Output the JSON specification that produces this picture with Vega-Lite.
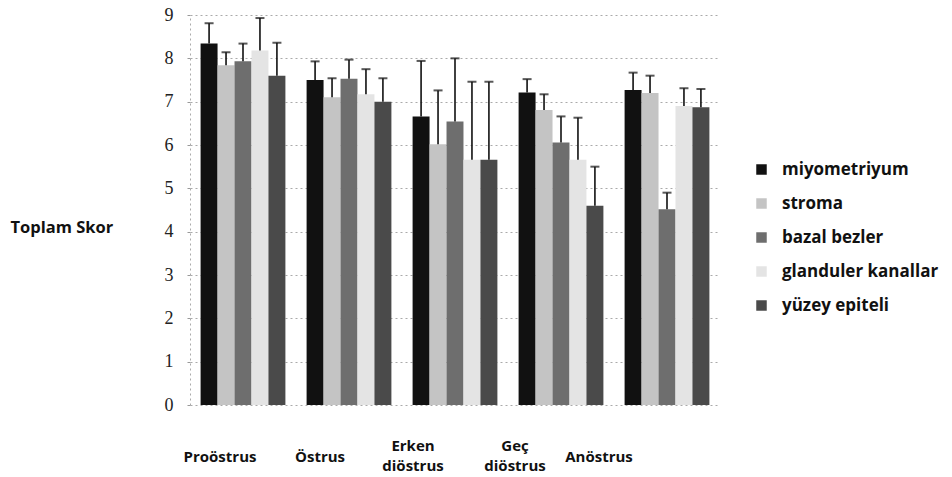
{
  "$schema": "https://vega.github.io/schema/vega-lite/v6.json",
  "width": 530,
  "height": 390,
  "autosize": {"type": "none"},
  "padding": {"left": 190, "top": 15, "right": 232, "bottom": 72},
  "background": "white",
  "config": {"view": {"stroke": null}},
  "data": {"values": [
    {"phase": "Proöstrus", "tissue": "miyometriyum", "value": 8.34, "upper": 8.81},
    {"phase": "Proöstrus", "tissue": "stroma", "value": 7.84, "upper": 8.14},
    {"phase": "Proöstrus", "tissue": "bazal bezler", "value": 7.93, "upper": 8.34},
    {"phase": "Proöstrus", "tissue": "glanduler kanallar", "value": 8.18, "upper": 8.93},
    {"phase": "Proöstrus", "tissue": "yüzey epiteli", "value": 7.6, "upper": 8.36},
    {"phase": "Östrus", "tissue": "miyometriyum", "value": 7.5, "upper": 7.93},
    {"phase": "Östrus", "tissue": "stroma", "value": 7.1, "upper": 7.54},
    {"phase": "Östrus", "tissue": "bazal bezler", "value": 7.53, "upper": 7.97},
    {"phase": "Östrus", "tissue": "glanduler kanallar", "value": 7.17, "upper": 7.75},
    {"phase": "Östrus", "tissue": "yüzey epiteli", "value": 7.0, "upper": 7.54},
    {"phase": "Erken diöstrus", "tissue": "miyometriyum", "value": 6.66, "upper": 7.94},
    {"phase": "Erken diöstrus", "tissue": "stroma", "value": 6.02, "upper": 7.26},
    {"phase": "Erken diöstrus", "tissue": "bazal bezler", "value": 6.54, "upper": 8.0},
    {"phase": "Erken diöstrus", "tissue": "glanduler kanallar", "value": 5.66, "upper": 7.46},
    {"phase": "Erken diöstrus", "tissue": "yüzey epiteli", "value": 5.66, "upper": 7.46},
    {"phase": "Geç diöstrus", "tissue": "miyometriyum", "value": 7.21, "upper": 7.52},
    {"phase": "Geç diöstrus", "tissue": "stroma", "value": 6.81, "upper": 7.17},
    {"phase": "Geç diöstrus", "tissue": "bazal bezler", "value": 6.06, "upper": 6.66},
    {"phase": "Geç diöstrus", "tissue": "glanduler kanallar", "value": 5.66, "upper": 6.63},
    {"phase": "Geç diöstrus", "tissue": "yüzey epiteli", "value": 4.6, "upper": 5.5},
    {"phase": "Anöstrus", "tissue": "miyometriyum", "value": 7.27, "upper": 7.67},
    {"phase": "Anöstrus", "tissue": "stroma", "value": 7.2, "upper": 7.6},
    {"phase": "Anöstrus", "tissue": "bazal bezler", "value": 4.52, "upper": 4.9},
    {"phase": "Anöstrus", "tissue": "glanduler kanallar", "value": 6.9, "upper": 7.31},
    {"phase": "Anöstrus", "tissue": "yüzey epiteli", "value": 6.87, "upper": 7.29}
  ]},
  "encoding": {
    "x": {
      "field": "phase", "type": "nominal",
      "sort": ["Proöstrus", "Östrus", "Erken diöstrus", "Geç diöstrus", "Anöstrus"],
      "scale": {"paddingInner": 0.2, "paddingOuter": 0.1},
      "title": null,
      "axis": {
        "labelAngle": 0, "domain": false, "ticks": false, "grid": false,
        "labelFont": "Open Sans", "labelFontWeight": "bold", "labelFontSize": 15, "labelColor": "#111",
        "labelBaseline": "middle", "labelLineHeight": 20,
        "labelExpr": "split(datum.label, ' ')",
        "labelPadding": {
          "condition": {"test": "datum.value == 'Erken diöstrus' || datum.value == 'Geç diöstrus'", "value": 40},
          "value": 51
        },
        "labelOffset": {
          "condition": [
            {"test": "datum.value == 'Proöstrus'", "value": -23},
            {"test": "datum.value == 'Östrus'", "value": -29},
            {"test": "datum.value == 'Erken diöstrus'", "value": -42},
            {"test": "datum.value == 'Geç diöstrus'", "value": -46}
          ],
          "value": -68
        }
      }
    },
    "xOffset": {"field": "tissue", "type": "nominal", "sort": ["miyometriyum", "stroma", "bazal bezler", "glanduler kanallar", "yüzey epiteli"]}
  },
  "layer": [
    {
      "mark": {"type": "bar"},
      "encoding": {
        "y": {
          "field": "value", "type": "quantitative",
          "scale": {"domain": [0, 9], "nice": false},
          "title": "Toplam Skor",
          "axis": {
            "values": [0, 1, 2, 3, 4, 5, 6, 7, 8, 9],
            "titleAngle": 0, "titleAlign": "left", "titleBaseline": "middle",
            "titleX": -180, "titleY": 212,
            "titleFont": "Open Sans", "titleFontWeight": "bold", "titleFontSize": 16.5, "titleColor": "#111",
            "labelFont": "Liberation Serif", "labelFontSize": 18, "labelColor": "#222",
            "labelPadding": 14, "tickSize": 3, "tickColor": "#999",
            "domainColor": "#aaa", "domainDash": [2, 3],
            "grid": true, "gridColor": "#aaa", "gridDash": [2, 3], "gridWidth": 1
          }
        },
        "color": {
          "field": "tissue", "type": "nominal",
          "sort": ["miyometriyum", "stroma", "bazal bezler", "glanduler kanallar", "yüzey epiteli"],
          "scale": {"range": ["#111111", "#c4c4c4", "#6e6e6e", "#e4e4e4", "#4a4a4a"]},
          "legend": {
            "title": null, "orient": "none", "legendX": 563, "legendY": 146,
            "symbolType": "square", "symbolSize": 110, "symbolStrokeWidth": 0,
            "labelFont": "Open Sans", "labelFontWeight": "bold", "labelFontSize": 17, "labelColor": "#111",
            "labelOffset": 12, "rowPadding": 16
          }
        }
      }
    },
    {
      "mark": {"type": "rule", "color": "#111", "strokeWidth": 1.6},
      "encoding": {
        "y": {"field": "value", "type": "quantitative"},
        "y2": {"field": "upper"}
      }
    },
    {
      "mark": {"type": "tick", "color": "#111", "thickness": 2, "size": 9},
      "encoding": {
        "y": {"field": "upper", "type": "quantitative"}
      }
    }
  ]
}
